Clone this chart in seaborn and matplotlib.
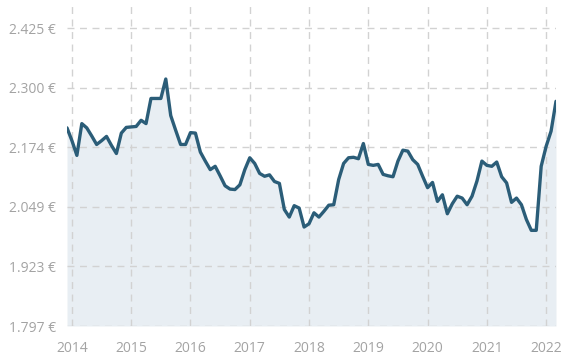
import matplotlib
matplotlib.use("Agg")
import matplotlib.pyplot as plt
import numpy as np
import pandas as pd
import seaborn as sns
from matplotlib.ticker import FuncFormatter

# serie mensual, dic 2013 - mar 2022 (euros)
MESES = pd.date_range("2013-12-01", periods=100, freq="MS")
VALORES = [
    2215, 2188, 2157, 2224, 2215, 2198, 2180, 2188, 2197, 2178,
    2161, 2204, 2216, 2217, 2218, 2231, 2224, 2277, 2277, 2277,
    2318, 2241, 2210, 2180, 2180, 2205, 2204, 2164, 2145, 2127,
    2134, 2114, 2093, 2086, 2085, 2095, 2127, 2152, 2140, 2119,
    2113, 2116, 2102, 2098, 2043, 2027, 2051, 2046, 2006, 2013,
    2036, 2027, 2039, 2052, 2053, 2106, 2140, 2152, 2153, 2150,
    2182, 2138, 2136, 2138, 2117, 2114, 2112, 2145, 2168, 2166,
    2148, 2138, 2113, 2089, 2100, 2060, 2074, 2034, 2055, 2071,
    2067, 2053, 2071, 2103, 2145, 2136, 2134, 2143, 2112, 2099,
    2058, 2067, 2053, 2022, 1999, 1999, 2134, 2176, 2208, 2271,
]
Y_TICKS = [1797.4, 1923.0, 2048.6, 2174.2, 2299.8, 2425.4]
X_TICK_LABELS = ["2014", "2015", "2016", "2017", "2018", "2019", "2020", "2021", "2022"]

LINE_COLOR = "#2b5d78"
FILL_COLOR = "#e8eef3"
GRID_COLOR = "#d2d2d2"
TEXT_COLOR = "#a3a3a3"

sns.set_theme(style="white")
plt.rcParams["font.family"] = ["Open Sans", "DejaVu Sans"]

df = pd.DataFrame({"idx": np.arange(len(VALORES)), "valor": VALORES, "mes": MESES})

fig = plt.figure(figsize=(5.83, 3.63), dpi=100)
ax = fig.add_axes([67 / 583, 1 - 326 / 363, (556 - 67) / 583, (326 - 5) / 363])

ax.fill_between(df["idx"], df["valor"], Y_TICKS[0], color=FILL_COLOR, zorder=1, linewidth=0)
sns.lineplot(data=df, x="idx", y="valor", ax=ax, color=LINE_COLOR, linewidth=2.4, zorder=3)

ax.set_xlim(0, len(VALORES) - 1)
ax.set_ylim(Y_TICKS[0], 2474)

xticks = [int(np.where((MESES.year == int(y)) & (MESES.month == 1))[0][0]) for y in X_TICK_LABELS]
ax.set_xticks(xticks)
ax.set_xticklabels(X_TICK_LABELS)
ax.set_yticks(Y_TICKS)
ax.yaxis.set_major_formatter(FuncFormatter(lambda v, _: f"{v:,.0f} €".replace(",", ".")))

ax.grid(True, color=GRID_COLOR, linestyle=(0, (5, 4)), linewidth=1.0, zorder=2)
ax.set_axisbelow(False)
for s in ax.spines.values():
    s.set_visible(False)
ax.tick_params(axis="both", length=0, labelsize=10, colors=TEXT_COLOR)
ax.tick_params(axis="y", pad=8)
ax.tick_params(axis="x", pad=11)
ax.set_xlabel("")
ax.set_ylabel("")

fig.savefig("out.png", dpi=100)
